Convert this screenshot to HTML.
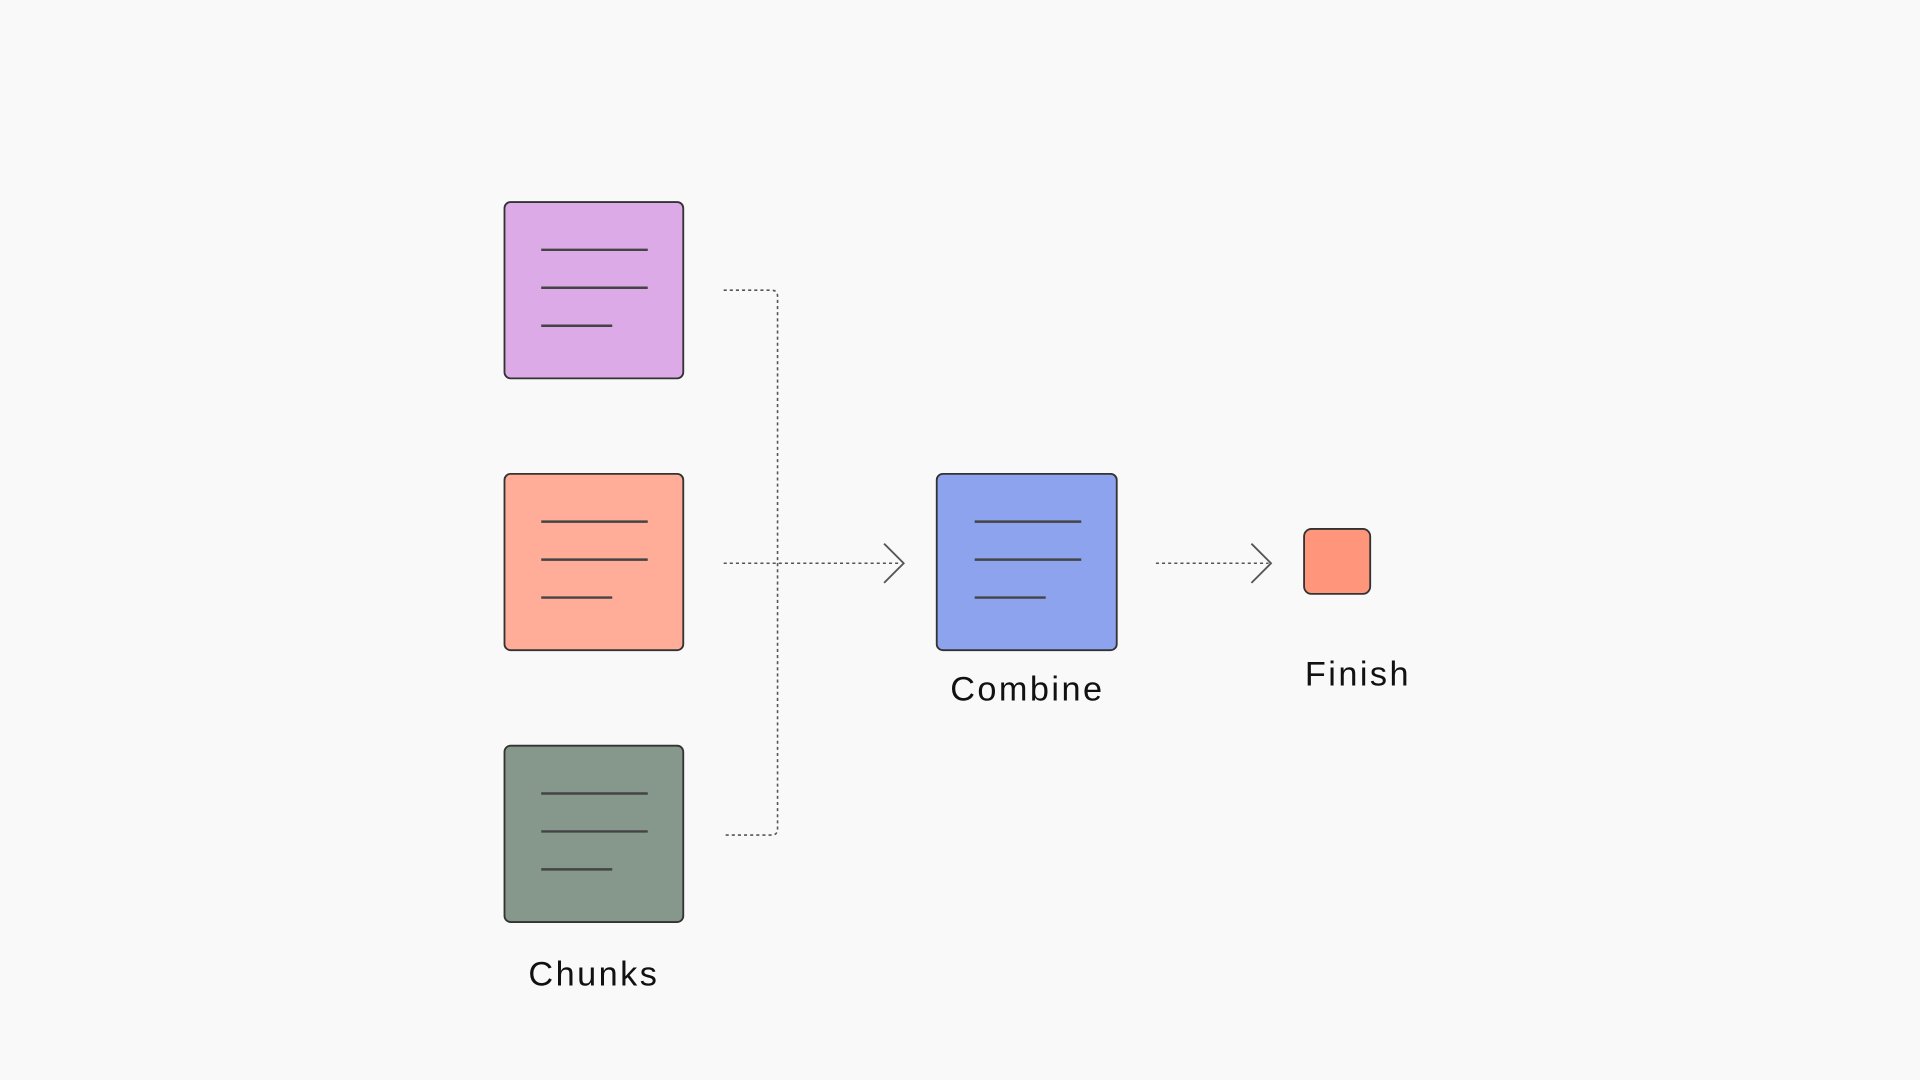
<!DOCTYPE html>
<html><head><meta charset="utf-8"><style>
html,body{margin:0;padding:0;background:#f9f9f9;}
svg{display:block;}
text{font-family:"Liberation Sans",sans-serif;font-size:28px;fill:#111;letter-spacing:2px;text-anchor:middle;}
</style></head><body>
<svg width="1920" height="1080" viewBox="0 0 1568 882" xmlns="http://www.w3.org/2000/svg">
<rect width="1568" height="882" fill="#f9f9f9"/>
<g stroke="#333" stroke-width="1.5">
<rect x="412" y="165" width="146" height="144" rx="5" fill="#DDAAE8"/>
<rect x="412" y="387" width="146" height="144" rx="5" fill="#FFAD99"/>
<rect x="412" y="609" width="146" height="144" rx="5" fill="#86978B"/>
<rect x="765" y="387" width="147" height="144" rx="5" fill="#8DA3EE"/>
<rect x="1065" y="432" width="54" height="53" rx="6" fill="#FF957A"/>
</g>
<g stroke="#444" stroke-width="2">
<line x1="442" y1="204" x2="529" y2="204"/><line x1="442" y1="235" x2="529" y2="235"/><line x1="442" y1="266" x2="500" y2="266"/>
<line x1="442" y1="426" x2="529" y2="426"/><line x1="442" y1="457" x2="529" y2="457"/><line x1="442" y1="488" x2="500" y2="488"/>
<line x1="442" y1="648" x2="529" y2="648"/><line x1="442" y1="679" x2="529" y2="679"/><line x1="442" y1="710" x2="500" y2="710"/>
<line x1="796" y1="426" x2="883" y2="426"/><line x1="796" y1="457" x2="883" y2="457"/><line x1="796" y1="488" x2="854" y2="488"/>
</g>
<g fill="none" stroke="#555" stroke-width="1.3" stroke-dasharray="2.5 2.5">
<path d="M591 237 H630 Q635 237 635 242 V677 Q635 682 630 682 H591"/>
<line x1="591" y1="460" x2="736" y2="460"/>
<line x1="944" y1="460" x2="1036" y2="460"/>
</g>
<g fill="none" stroke="#555" stroke-width="1.5">
<path d="M722 444 L738 460 L722 476"/>
<path d="M1022 444 L1038 460 L1022 476"/>
</g>
<text x="839" y="572">Combine</text>
<text x="1109" y="560">Finish</text>
<text x="485" y="805">Chunks</text>
</svg>
</body></html>
